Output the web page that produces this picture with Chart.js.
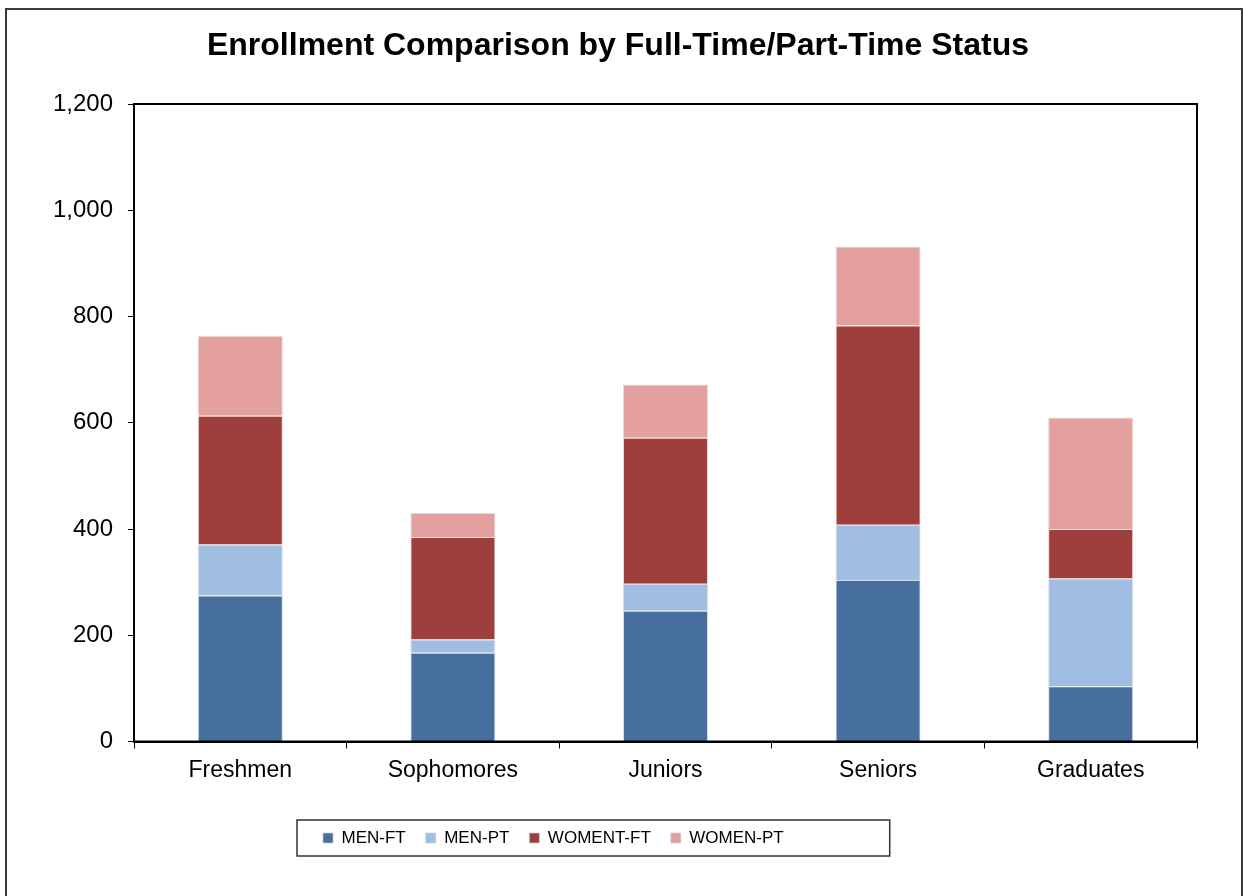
<!DOCTYPE html>
<html>
<head>
<meta charset="utf-8">
<script src="https://cdn.jsdelivr.net/npm/chart.js@4.4.0/dist/chart.umd.min.js"></script>
<style>
html,body{margin:0;padding:0;background:#fff;}
#wrap{position:relative;width:1243px;height:896px;overflow:hidden;background:#fff;}
#frame{position:absolute;left:5px;top:8px;width:1238px;height:900px;border:2px solid #3a3a3a;box-sizing:border-box;}
#c{position:absolute;left:0;top:0;width:1243px;height:896px;}
</style>
</head>
<body>
<div id="wrap"><div id="frame"></div><canvas id="c" width="1243" height="896"></canvas></div>
<script>
const categories = ['Freshmen', 'Sophomores', 'Juniors', 'Seniors', 'Graduates'];
const menFT   = [275, 167, 246, 304, 104];
const menPT   = [96, 25, 51, 104, 203];
const womenFT = [242, 193, 275, 375, 93];
const womenPT = [151, 45, 100, 149, 210];
const seriesNames = ['MEN-FT', 'MEN-PT', 'WOMENT-FT', 'WOMEN-PT'];
const yTickValues = [0, 200, 400, 600, 800, 1000, 1200];
const titleText = 'Enrollment Comparison by Full-Time/Part-Time Status';

Chart.defaults.font.family = "'Liberation Sans', Arial, sans-serif";
Chart.defaults.color = '#000';

const colors = ['#466F9D', '#A0BDE2', '#9E3F3E', '#E3A09F'];
const seriesData = [menFT, menPT, womenFT, womenPT];

const datasets = seriesData.map((d, i) => ({
  label: seriesNames[i],
  data: d,
  backgroundColor: colors[i],
  borderColor: 'rgba(205,205,205,0.7)',
  borderWidth: 1,
  barPercentage: 0.4,
  categoryPercentage: 1.0
}));

const plotBorder = {
  id: 'plotBorder',
  afterDatasetsDraw(chart) {
    const {ctx, chartArea: a} = chart;
    ctx.save();
    ctx.strokeStyle = '#000';
    ctx.lineWidth = 2;
    ctx.strokeRect(a.left, a.top, a.right - a.left, a.bottom - a.top);
    ctx.restore();
  }
};

const blockShift = {
  id: 'blockShift',
  afterLayout(chart) {
    chart.legend.left = 303;
    chart.titleBlock.left = 0;
    chart.titleBlock.right = 1236;
  },
  afterDraw(chart) {
    const lg = chart.legend;
    const hb = lg.legendHitBoxes;
    if (!hb || !hb.length) return;
    const first = hb[0], last = hb[hb.length - 1];
    const cy = first.top + first.height / 2;
    const ctx = chart.ctx;
    ctx.save();
    ctx.strokeStyle = '#333';
    ctx.lineWidth = 1.5;
    const x0 = first.left - 26;
    const x1 = last.left + last.width + 106;
    ctx.strokeRect(x0, cy - 18, x1 - x0, 36);
    ctx.restore();
  }
};

new Chart(document.getElementById('c'), {
  type: 'bar',
  data: { labels: categories, datasets },
  options: {
    responsive: false,
    animation: false,
    layout: { padding: { top: 0, right: 46, bottom: 39.5, left: 0 } },
    plugins: {
      title: {
        display: true,
        text: titleText,
        color: '#000',
        font: { size: 32, weight: 'bold' },
        padding: { top: 26.8, bottom: 38.8 }
      },
      legend: {
        position: 'bottom',
        align: 'start',
        labels: {
          boxWidth: 10,
          boxHeight: 10,
          padding: 20,
          color: '#000',
          font: { size: 17 }
        }
      },
      tooltip: { enabled: false }
    },
    scales: {
      x: {
        stacked: true,
        grid: { offset: true, drawOnChartArea: false, drawTicks: true, tickLength: 7, color: '#000', lineWidth: 1 },
        border: { display: true, color: '#000', width: 2 },
        ticks: { color: '#000', font: { size: 23 }, padding: 8 },
        afterFit(s) { s.height = 68; }
      },
      y: {
        stacked: true,
        min: 0,
        max: 1200,
        afterBuildTicks(s) { s.ticks = yTickValues.map(v => ({ value: v })); },
        grid: { drawOnChartArea: false, drawTicks: true, tickLength: 6, color: '#000', lineWidth: 1 },
        border: { display: true, color: '#000', width: 2 },
        ticks: {
          color: '#000',
          font: { size: 24 },
          padding: 15,
          callback: v => Number(v).toLocaleString('en-US')
        },
        afterFit(s) { s.width = 134; }
      }
    }
  },
  plugins: [plotBorder, blockShift]
});
</script>
</body>
</html>
